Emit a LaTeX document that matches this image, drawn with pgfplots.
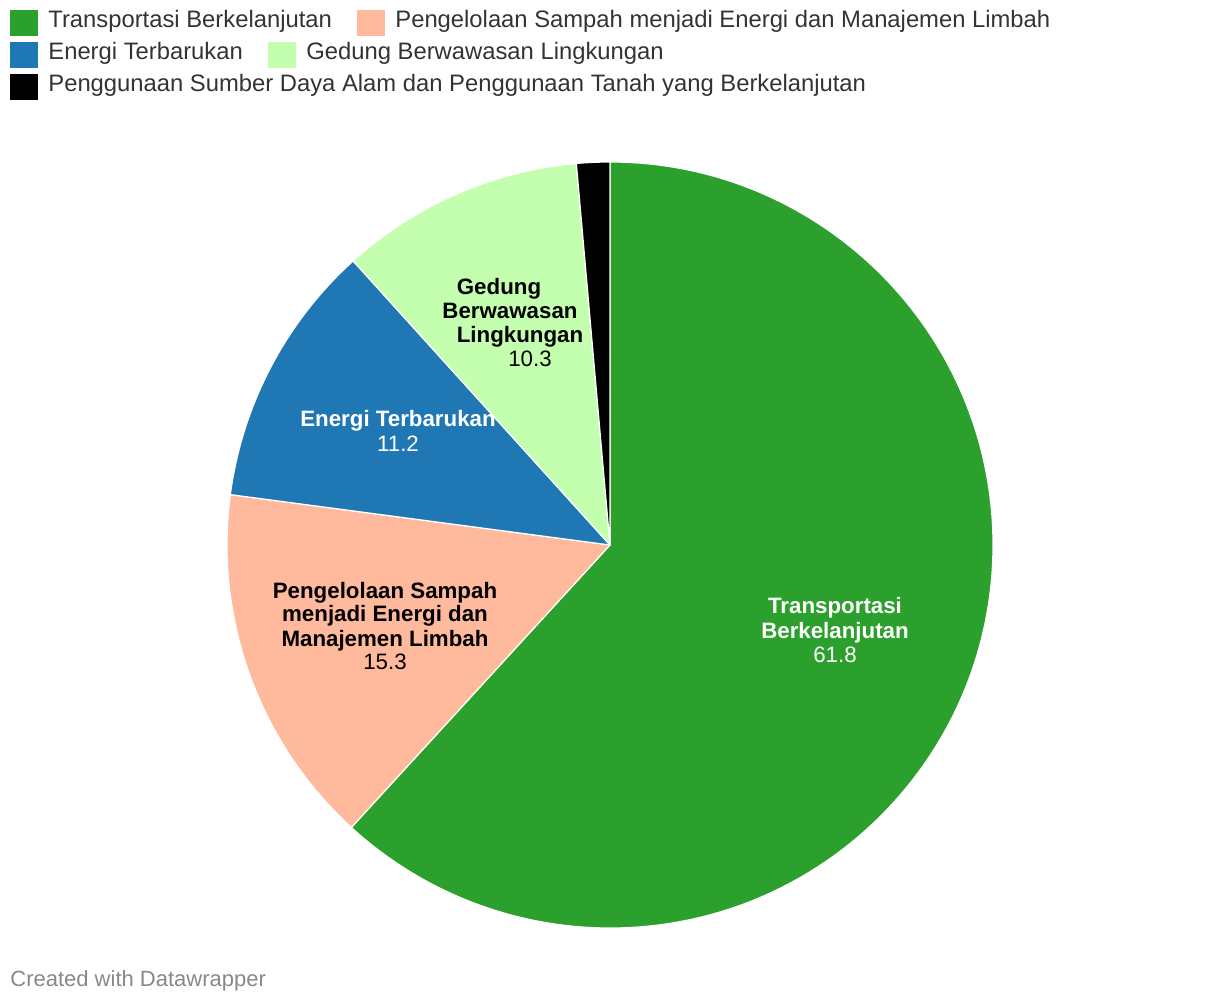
\documentclass[border=0pt]{standalone}
\usepackage{fontspec}
\setmainfont{Liberation Sans}
\usepackage{pgfplots}
\pgfplotsset{compat=1.18}

\definecolor{cgreen}{RGB}{44,160,44}
\definecolor{cpeach}{RGB}{255,185,156}
\definecolor{cblue}{RGB}{31,119,180}
\definecolor{clgreen}{RGB}{196,255,176}
\definecolor{legtext}{RGB}{51,51,51}
\definecolor{footgray}{RGB}{136,136,136}

\newcommand{\bfl}{\fontsize{11.15}{13}\selectfont\bfseries}
\newcommand{\rgl}{\fontsize{11.15}{13}\selectfont}
\newcommand{\lgf}{\fontsize{11.9}{14}\selectfont}
% one text line of a slice label: colour, font, x,y (pixels), text
\newcommand{\lbl}[4]{\node[anchor=base, inner sep=0pt, text=#1, font=#2] at (axis cs:#3) {#4};}
% legend entry: colour, square x, row y, text
\newcommand{\leg}[4]{%
  \fill[#1] (axis cs:#2,-#3+13) rectangle (axis cs:#2+28,-#3-13);
  \node[anchor=base west, inner sep=0pt, text=legtext, font=\lgf] at (axis cs:#2+38,-#3-5) {#4};}

\begin{document}
\begin{tikzpicture}
\begin{axis}[
  hide axis, scale only axis,
  x=0.5pt, y=0.5pt,
  xmin=0, xmax=1220, ymin=-1002, ymax=0,
  clip=false]

% keep the whole canvas as the picture's box
\path (axis cs:0,0) rectangle (axis cs:1220,-1002);

% pie slices, clockwise from the top
\pgfplotsextra{
  \gdef\cum{0}
  \foreach \v/\c in {61.8/cgreen, 15.3/cpeach, 11.2/cblue, 10.3/clgreen, 1.4/black}{
    \pgfmathsetmacro\a{90-3.6*\cum}
    \pgfmathsetmacro\b{90-3.6*(\cum+\v)}
    \fill[\c, draw=white, line width=0.6pt, line join=round]
      (axis cs:610,-545) -- ++(\a:191.5pt) arc[start angle=\a, end angle=\b, radius=191.5pt] -- cycle;
    \pgfmathsetmacro\n{\cum+\v}
    \xdef\cum{\n}
  }
}

% slice labels
\lbl{white}{\bfl}{835,-614}{Transportasi}
\lbl{white}{\bfl}{835,-638}{Berkelanjutan}
\lbl{white}{\rgl}{835,-662}{61.8}

\lbl{black}{\bfl}{385,-599}{Pengelolaan Sampah}
\lbl{black}{\bfl}{385,-622}{menjadi Energi dan}
\lbl{black}{\bfl}{385,-646}{Manajemen Limbah}
\lbl{black}{\rgl}{385,-669}{15.3}

\lbl{white}{\bfl}{398,-427}{Energi Terbarukan}
\lbl{white}{\rgl}{398,-452}{11.2}

\lbl{black}{\bfl}{499,-295}{Gedung}
\lbl{black}{\bfl}{510,-319}{Berwawasan}
\lbl{black}{\bfl}{520,-343}{Lingkungan}
\lbl{black}{\rgl}{530,-367}{10.3}

% legend
\leg{cgreen}{10}{23}{Transportasi Berkelanjutan}
\leg{cpeach}{357}{23}{Pengelolaan Sampah menjadi Energi dan Manajemen Limbah}
\leg{cblue}{10}{55}{Energi Terbarukan}
\leg{clgreen}{268}{55}{Gedung Berwawasan Lingkungan}
\leg{black}{10}{87}{Penggunaan Sumber Daya Alam dan Penggunaan Tanah yang Berkelanjutan}

% footer
\node[anchor=base west, inner sep=0pt, text=footgray, font=\fontsize{11}{13}\selectfont] at (axis cs:10,-986) {Created with Datawrapper};
\end{axis}
\end{tikzpicture}
\end{document}
